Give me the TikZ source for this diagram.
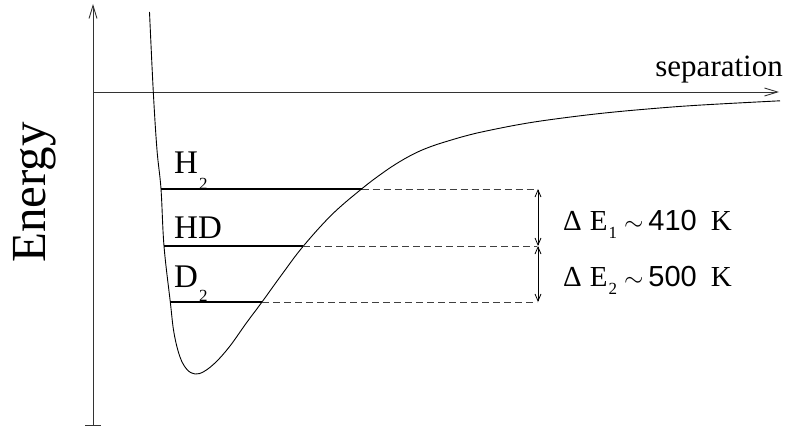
\documentclass[tikz,border=0pt]{standalone}
\usepackage{fontspec}
\setmainfont{Liberation Serif}
\setsansfont{Liberation Sans}
\usetikzlibrary{arrows.meta}
\newcommand\lowsub[2]{\raisebox{-#1}{\fontsize{17}{17}\selectfont #2}}
\begin{document}
\begin{tikzpicture}[x=1pt,y=-1pt,
  axis/.style={line width=0.9pt, draw=black!80},
  axtip/.style={-{Straight Barb[length=13pt,width=8pt]}},
  curve/.style={line width=0.9pt},
  level/.style={line width=1.2pt},
  levdash/.style={line width=0.9pt, draw=black!75, dash pattern=on 7pt off 4pt},
  gap/.style={line width=0.8pt, {Straight Barb[length=7pt,width=6pt]}-{Straight Barb[length=7pt,width=6pt]}},
  lab/.style={font=\fontsize{33}{35}\selectfont, inner sep=0pt, anchor=base west},
  dlab/.style={font=\fontsize{29}{31}\selectfont, inner sep=0pt, anchor=base west}]
\useasboundingbox (0,0) rectangle (787,428);
% axes
\coordinate (ybot) at (93,425);
\coordinate (ytop) at (93,4);
\coordinate (tickl) at (85,425);
\coordinate (tickr) at (101,425);
\coordinate (xorig) at (93,92);
\coordinate (xend) at (779,92);
\draw[axis,axtip] (ybot) -- (ytop);
\draw[axis] (tickl) -- (tickr);
\draw[axis,axtip] (xorig) -- (xend);
% potential curve
\draw[curve] plot[smooth, tension=0.6] coordinates {
 (149.5,12) (153.3,92) (157,150) (161,189) (164,246) (170.3,302)
 (174,333) (180,357) (187,369.5) (195,374) (204,371.5) (216,362) (230,346)
 (246,323.5) (262,302) (282,274.3) (303,246.5) (332,214.5) (361.5,189)
 (383,172.7) (400,161.5) (417,152.3) (433,145.8) (450,140.4) (466,135.8)
 (483,131.7) (517,124.9) (550,119.7) (600,113.5) (650,108.8) (700,105.1) (780,100.8)};
% levels
\coordinate (h2l) at (161,189);   \coordinate (h2r) at (361.5,189); \coordinate (h2e) at (537,189);
\coordinate (hdl) at (164,246);   \coordinate (hdr) at (303,246);   \coordinate (hde) at (537,246);
\coordinate (d2l) at (170.3,302); \coordinate (d2r) at (262,302);   \coordinate (d2e) at (537,302);
\draw[level] (h2l) -- (h2r);
\draw[levdash] (h2r) -- (h2e);
\draw[level] (hdl) -- (hdr);
\draw[levdash] (hdr) -- (hde);
\draw[level] (d2l) -- (d2r);
\draw[levdash] (d2r) -- (d2e);
% gaps
\coordinate (g1) at (538,189);
\coordinate (g2) at (538,246);
\coordinate (g3) at (538,302);
\draw[gap] (g1) -- (g2);
\draw[gap] (g2) -- (g3);
% labels
\node[lab] (lh2) at (174,173) {H\hspace{1pt}\lowsub{16pt}{2}};
\node[lab] (lhd) at (174,238) {HD};
\node[lab] (ld2) at (174,287) {D\hspace{1pt}\lowsub{14.7pt}{2}};
\node[dlab] (de1) at (563,230) {Δ\hspace{8pt}E\hspace{1pt}\lowsub{8pt}{1}\hspace{7pt}$\sim$\hspace{5pt}{\sffamily 410}\hspace{14pt}K};
\node[dlab] (de2) at (563,286) {Δ\hspace{8pt}E\hspace{1pt}\lowsub{8pt}{2}\hspace{7pt}$\sim$\hspace{5pt}{\sffamily 500}\hspace{14pt}K};
\node[font=\fontsize{31}{33}\selectfont, inner sep=0pt, anchor=base east] (sep) at (783,77) {separation};
\node[font=\fontsize{49}{51}\selectfont, rotate=90, anchor=base, inner sep=0pt] (energy) at (45,192.5) {Energy};
\end{tikzpicture}
\end{document}
